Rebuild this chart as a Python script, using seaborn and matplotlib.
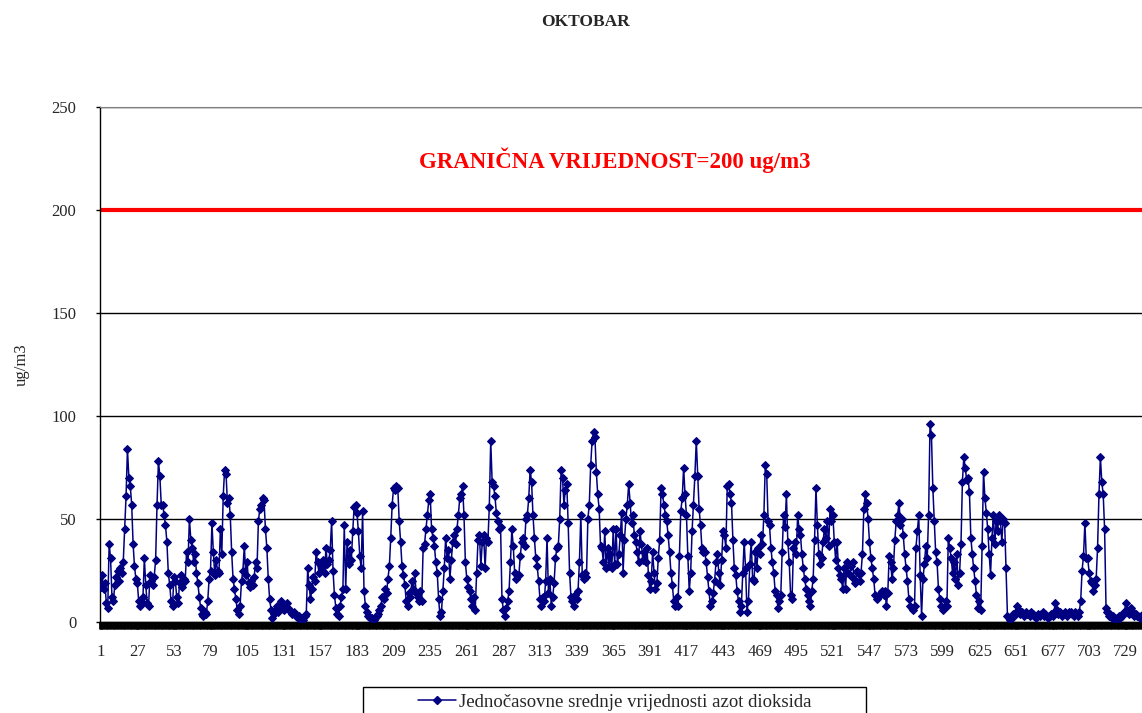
import numpy as np
import pandas as pd
import seaborn as sns
import matplotlib.pyplot as plt
from matplotlib.patches import Rectangle
from matplotlib.lines import Line2D

# hourly NO2 values (ug/m3), one list per day of October
d01 = [17, 23, 16, 19, 9, 7, 38, 31, 12, 10, 18, 22, 25, 20, 26, 24, 29, 45, 61, 84, 70, 66, 57, 38]
d02 = [27, 21, 19, 10, 8, 9, 12, 31, 18, 9, 8, 23, 20, 18, 22, 30, 57, 78, 71, 57, 57, 52, 47, 39]
d03 = [24, 18, 10, 8, 22, 20, 12, 9, 19, 23, 17, 21, 20, 34, 29, 50, 40, 36, 29, 33, 24, 19, 12, 7]
d04 = [4, 3, 5, 4, 10, 21, 25, 48, 34, 23, 30, 25, 24, 45, 33, 61, 74, 72, 58, 60, 52, 34, 21, 16]
d05 = [11, 6, 4, 8, 20, 25, 37, 23, 29, 19, 17, 20, 18, 22, 29, 26, 49, 55, 57, 60, 59, 45, 36, 21]
d06 = [11, 6, 2, 4, 6, 8, 5, 7, 10, 8, 6, 7, 9, 7, 6, 5, 4, 5, 4, 3, 2, 3, 1, 2]
d07 = [1, 3, 4, 26, 18, 11, 16, 22, 20, 34, 29, 24, 28, 26, 30, 24, 36, 28, 30, 35, 49, 25, 13, 7]
d08 = [4, 3, 8, 12, 16, 47, 16, 39, 28, 35, 30, 44, 56, 57, 53, 44, 32, 26, 54, 15, 8, 5, 3, 2]
d09 = [2, 2, 1, 2, 3, 4, 6, 8, 12, 11, 16, 14, 21, 27, 41, 57, 65, 64, 66, 65, 49, 39, 27, 23]
d10 = [18, 10, 8, 14, 12, 20, 16, 24, 14, 12, 10, 15, 10, 36, 38, 45, 52, 59, 62, 45, 41, 37, 29, 24]
d11 = [11, 3, 5, 15, 26, 41, 31, 35, 21, 30, 39, 42, 38, 45, 52, 60, 62, 66, 52, 29, 21, 17, 15, 11]
d12 = [8, 12, 6, 24, 40, 42, 27, 39, 42, 26, 41, 39, 56, 88, 68, 66, 61, 53, 49, 45, 46, 11, 6, 3]
d13 = [7, 10, 15, 29, 45, 37, 24, 21, 23, 23, 32, 39, 41, 37, 50, 52, 60, 74, 68, 52, 41, 31, 27, 20]
d14 = [11, 8, 12, 10, 20, 41, 14, 21, 8, 12, 19, 31, 36, 37, 50, 74, 70, 57, 64, 67, 48, 24, 12, 10]
d15 = [8, 13, 11, 15, 29, 52, 23, 21, 24, 22, 50, 57, 76, 88, 92, 90, 73, 62, 55, 37, 36, 29, 44, 26]
d16 = [36, 27, 33, 26, 45, 28, 45, 28, 33, 42, 53, 24, 40, 50, 57, 67, 58, 48, 52, 42, 39, 34, 29, 44]
d17 = [38, 30, 34, 29, 36, 23, 16, 20, 34, 24, 16, 19, 31, 40, 65, 62, 57, 52, 49, 42, 34, 24, 18, 10]
d18 = [8, 12, 8, 32, 54, 60, 75, 62, 52, 32, 15, 24, 44, 57, 71, 88, 71, 55, 47, 36, 34, 34, 29, 22]
d19 = [15, 8, 10, 14, 20, 29, 33, 24, 18, 30, 44, 42, 36, 66, 67, 62, 58, 40, 26, 23, 15, 10, 5, 8]
d20 = [24, 39, 26, 5, 10, 28, 39, 21, 20, 34, 26, 36, 33, 42, 38, 52, 76, 72, 49, 47, 36, 29, 24, 15]
d21 = [13, 7, 10, 13, 34, 52, 46, 62, 39, 29, 13, 11, 36, 39, 33, 52, 45, 42, 33, 26, 21, 16, 13, 10]
d22 = [8, 15, 21, 40, 65, 47, 33, 28, 31, 39, 45, 41, 49, 37, 55, 49, 52, 39, 30, 39, 26, 23, 21, 16]
d23 = [26, 16, 29, 24, 23, 27, 29, 21, 19, 25, 24, 20, 24, 33, 55, 62, 58, 50, 39, 31, 26, 21, 13, 11]
d24 = [12, 13, 14, 15, 13, 15, 8, 14, 32, 29, 21, 26, 40, 49, 52, 58, 47, 50, 42, 33, 26, 20, 11, 8]
d25 = [7, 6, 8, 36, 44, 52, 23, 3, 21, 28, 37, 31, 52, 96, 91, 65, 49, 34, 29, 16, 11, 8, 6, 7]
d26 = [10, 8, 41, 36, 31, 24, 29, 21, 33, 18, 24, 38, 68, 80, 75, 69, 70, 63, 41, 33, 26, 20, 13, 7]
d27 = [10, 6, 37, 73, 60, 53, 45, 33, 23, 41, 52, 38, 49, 44, 52, 49, 39, 50, 48, 26, 3, 2, 1, 3]
d28 = [4, 3, 5, 8, 6, 4, 5, 4, 3, 5, 4, 4, 3, 5, 4, 3, 2, 3, 4, 3, 4, 5, 3, 4]
d29 = [3, 2, 3, 4, 3, 5, 9, 6, 4, 5, 4, 3, 4, 5, 3, 4, 5, 5, 4, 3, 5, 4, 3, 5]
d30 = [10, 25, 32, 48, 31, 31, 24, 20, 19, 15, 18, 21, 36, 62, 80, 68, 62, 45, 7, 5, 3, 4, 2, 3]
d31 = [2, 1, 2, 3, 2, 3, 4, 5, 9, 6, 4, 5, 7, 5, 3, 4, 3, 3, 2, 3, 4, 3, 3, 2]

days = [d01, d02, d03, d04, d05, d06, d07, d08, d09, d10, d11, d12, d13, d14, d15, d16,
        d17, d18, d19, d20, d21, d22, d23, d24, d25, d26, d27, d28, d29, d30, d31]
limit = 200
series_name = "Jednočasovne srednje vrijednosti azot dioksida"

values = [v for d in days for v in d]
df = pd.DataFrame({"sat": np.arange(1, len(values) + 1), "no2": values})

sns.set_style("white")
plt.rcParams['font.family'] = ['Liberation Serif', 'DejaVu Serif']

W, H = 1142, 713
fig = plt.figure(figsize=(W / 100, H / 100), dpi=100)
n = len(values)
# axis runs past the right edge of the picture, as in the original
ax = fig.add_axes([100 / W, 91 / H, n * 1.408 / W, 515 / H])

ax.grid(axis="y", color="black", lw=1)
ax.set_axisbelow(True)
ax.axhline(limit, color="#ff0000", lw=3, zorder=2)
sns.lineplot(data=df, x="sat", y="no2", color="#000080", lw=1.1, marker="D",
             markersize=4.5, markeredgecolor="#000080", ax=ax, zorder=3)

ax.set_xlim(0.5, n + 0.5)
ax.set_ylim(0, 250)
ax.set_yticks([0, 50, 100, 150, 200, 250])
ax.set_xticks(np.arange(1, n + 1, 26))
ax.set_xticks(np.arange(0.5, n + 1, 1), minor=True)
# one tick per hour -> dense black band under the axis
ax.tick_params(axis="x", which="both", bottom=True, direction="out", length=5.2, width=2,
               color="black")
ax.tick_params(axis="x", which="major", labelsize=12, pad=11)
ax.tick_params(axis="y", left=True, direction="out", length=3, width=1, color="black",
               labelsize=12, pad=14)
ax.set_xlabel("")
ax.set_ylabel("")
for s in ["left", "bottom"]:
    ax.spines[s].set_color("black")
    ax.spines[s].set_linewidth(1)
ax.spines["top"].set_color("#808080")
ax.spines["right"].set_visible(False)

fig.text(586 / W, 1 - 22 / H, "OKTOBAR", ha="center", va="center", fontsize=12.5, weight="bold")
fig.text(22 / W, 1 - 365 / H, "ug/m3", rotation=90, ha="center", va="center", fontsize=12)
fig.text(615 / W, 1 - 160 / H, "GRANIČNA VRIJEDNOST=200 ug/m3", ha="center", va="center",
         color="#ff0000", fontsize=16.5, weight="bold")

# legend box, cut by the bottom edge like the original
fig.patches.append(Rectangle((363 / W, -0.02), 503 / W, (713 - 687) / H + 0.02,
                             transform=fig.transFigure, fill=False, ec="black", lw=1))
handle = Line2D([], [], color="#000080", lw=1.1, marker="D", markersize=4.5)
fig.legend([handle], [series_name], loc="center", bbox_to_anchor=(615 / W, 1 - 702 / H),
           frameon=False, fontsize=13.5, handlelength=2.0, handletextpad=0.2)

fig.savefig("out.png", dpi=100)
